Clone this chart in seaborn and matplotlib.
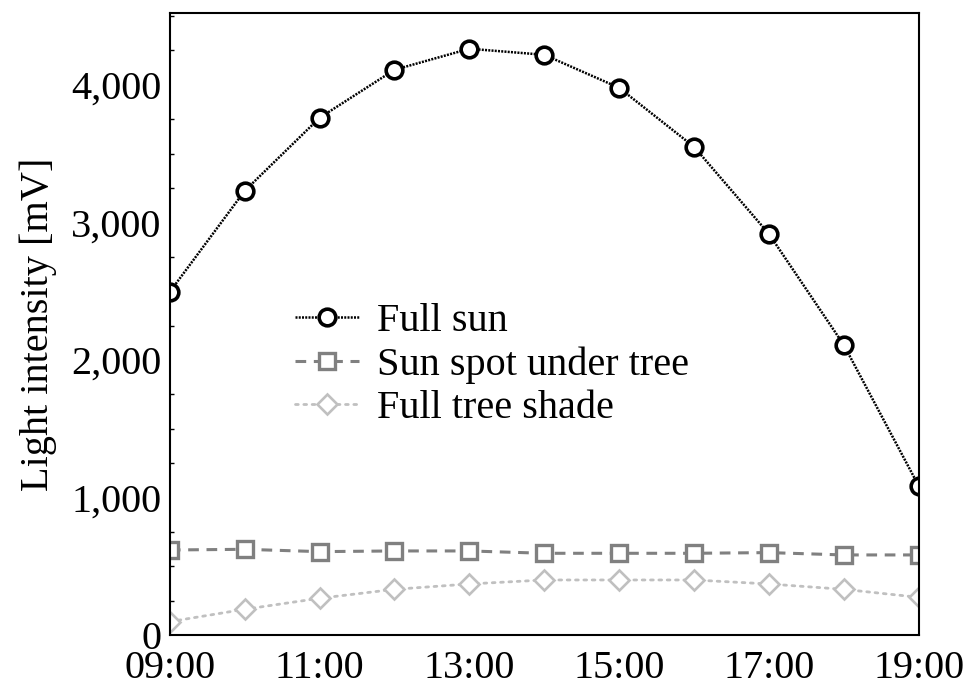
import matplotlib
matplotlib.use("Agg")
import matplotlib.pyplot as plt
import seaborn as sns
import pandas as pd
from matplotlib.ticker import MultipleLocator, FuncFormatter

hours = [9, 10, 11, 12, 13, 14, 15, 16, 17, 18, 19]
full_sun = [2495, 3229, 3760, 4109, 4262, 4218, 3978, 3549, 2916, 2109, 1084]
sun_spot = [618, 623, 606, 611, 611, 594, 594, 594, 599, 582, 582]
tree_shade = [97, 187, 267, 332, 371, 400, 400, 400, 371, 332, 274]
xtick_hours = [9, 11, 13, 15, 17, 19]

sns.set_style("white")
plt.rcParams['font.family'] = ['Liberation Serif', 'DejaVu Serif']
plt.rcParams['font.size'] = 29
plt.rcParams['text.color'] = 'black'
plt.rcParams['axes.labelcolor'] = 'black'
plt.rcParams['xtick.color'] = 'black'
plt.rcParams['ytick.color'] = 'black'

fig = plt.figure(figsize=(9.65, 6.87), dpi=100)
ax = fig.add_axes([0.176, 0.0757, 0.776, 0.905])

df = pd.DataFrame({"hour": hours, "sun": full_sun, "spot": sun_spot, "shade": tree_shade})

sns.lineplot(data=df, x="hour", y="sun", ax=ax, color="black", linewidth=1.8,
             linestyle=(0, (0.8, 0.5)), marker="o", markersize=12,
             markerfacecolor="white", markeredgecolor="black", markeredgewidth=2.6,
             label="Full sun")
sns.lineplot(data=df, x="hour", y="spot", ax=ax, color="#808080", linewidth=2.2,
             linestyle=(0, (3.5, 2.5)), marker="s", markersize=11.5,
             markerfacecolor="white", markeredgecolor="#808080", markeredgewidth=2.4,
             label="Sun spot under tree")
sns.lineplot(data=df, x="hour", y="shade", ax=ax, color="#c0c0c0", linewidth=2.0,
             linestyle=(0, (1, 2)), dash_capstyle="round", marker="D", markersize=10,
             markerfacecolor="white", markeredgecolor="#c0c0c0", markeredgewidth=1.9,
             label="Full tree shade")

ax.set_xlim(9, 19)
ax.set_ylim(0, 4520)
ax.set_xticks(xtick_hours)
ax.set_xticklabels([f"{h:02d}:00" for h in xtick_hours])
ax.yaxis.set_major_locator(MultipleLocator(1000))
ax.yaxis.set_minor_locator(MultipleLocator(250))
ax.yaxis.set_major_formatter(FuncFormatter(lambda v, p: f"{int(v):,}"))
ax.tick_params(axis="both", which="both", direction="in", labelsize=29, color="black")
ax.tick_params(axis="both", which="major", length=6, width=1.2)
ax.tick_params(axis="x", which="major", pad=11)
ax.tick_params(axis="y", which="major", pad=6)
ax.tick_params(axis="y", which="minor", length=3, width=1.0, left=True)
ax.set_xlabel("")
ax.set_ylabel("Light intensity [mV]", fontsize=29, labelpad=10)
for s in ax.spines.values():
    s.set_color("black")
    s.set_linewidth(1.5)

ax.legend(loc="upper left", bbox_to_anchor=(0.145, 0.56), frameon=False,
          fontsize=29, handlelength=1.6, handletextpad=0.45, labelspacing=0.15,
          borderaxespad=0)

fig.savefig("out.png", dpi=100)
